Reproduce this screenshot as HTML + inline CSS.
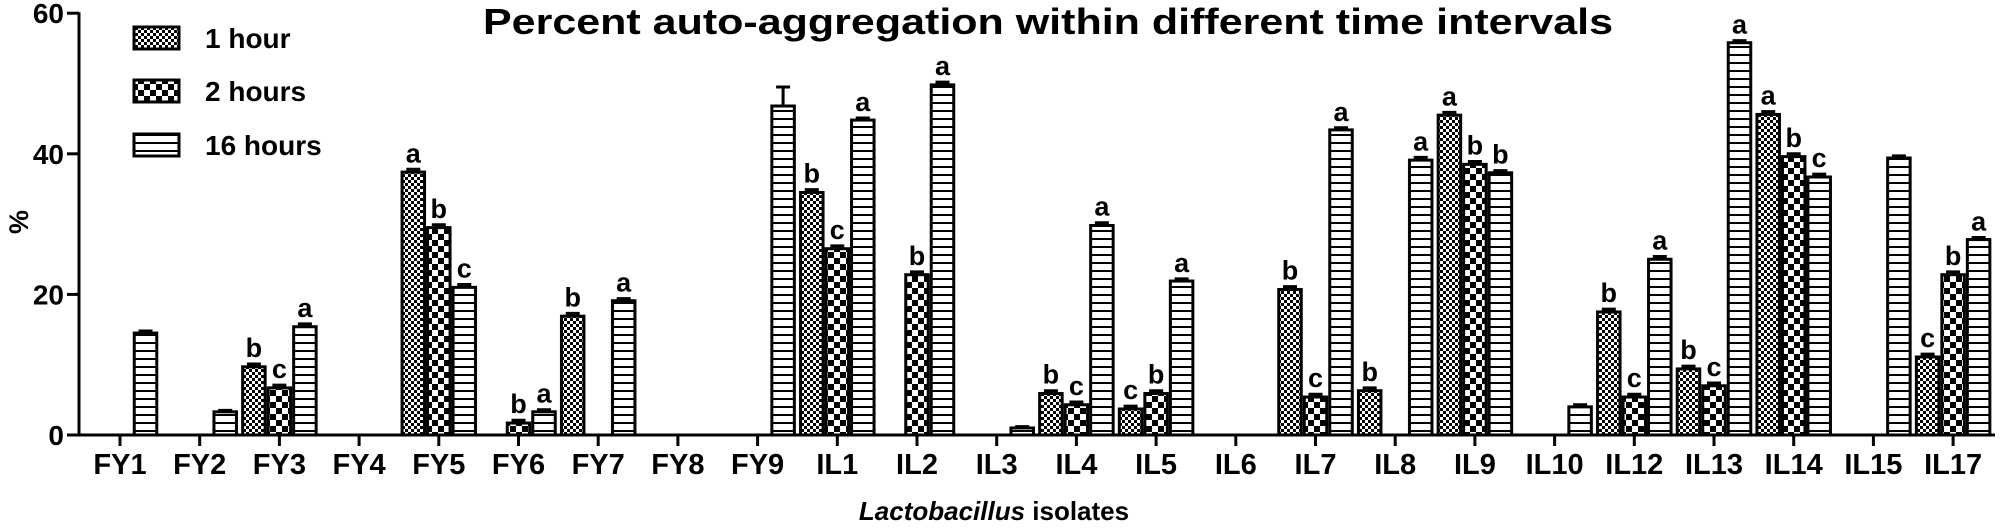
<!DOCTYPE html>
<html><head><meta charset="utf-8"><style>
html,body{margin:0;padding:0;background:#fff;}
svg{display:block;font-family:"Liberation Sans",Arial,sans-serif;font-weight:bold;}
</style></head><body>
<svg id="chart" width="2000" height="528" viewBox="0 0 2000 528">
<defs>
<pattern id="p1" width="6" height="6" patternUnits="userSpaceOnUse"><rect width="6" height="6" fill="#fff"/><rect width="3" height="3" fill="#000"/><rect x="3" y="3" width="3" height="3" fill="#000"/></pattern>
<pattern id="p2" width="12" height="12" patternUnits="userSpaceOnUse"><rect width="12" height="12" fill="#fff"/><rect x="0" y="0" width="6" height="6" fill="#000"/><rect x="6" y="6" width="6" height="6" fill="#000"/></pattern>
<pattern id="p3" width="8" height="8" patternUnits="userSpaceOnUse"><rect width="8" height="8" fill="#fff"/><rect y="6" width="8" height="2.5" fill="#000"/></pattern>
</defs>
<text x="1048" y="34" text-anchor="middle" font-size="36" textLength="1130" lengthAdjust="spacingAndGlyphs">Percent auto-aggregation within different time intervals</text>
<g id="yaxis"></g>
<g id="bars"></g>
<g id="xaxis"></g>
<text transform="translate(28,222) rotate(-90)" text-anchor="middle" font-size="27">%</text>
<text x="994" y="520" text-anchor="middle" font-size="26"><tspan font-style="italic">Lactobacillus</tspan> isolates</text>
<g>
<g><rect x="134" y="27" width="45" height="22" fill="url(#p1)" stroke="#000" stroke-width="3"/><text x="205" y="48" font-size="28">1 hour</text></g>
<g><rect x="134" y="80" width="45" height="22" fill="url(#p2)" stroke="#000" stroke-width="3"/><text x="205" y="101" font-size="28">2 hours</text></g>
<g><rect x="134" y="134" width="45" height="22" fill="url(#p3)" stroke="#000" stroke-width="3"/><text x="205" y="155" font-size="28">16 hours</text></g>
</g>
</svg>
<script>
const categories = ["FY1","FY2","FY3","FY4","FY5","FY6","FY7","FY8","FY9","IL1","IL2","IL3","IL4","IL5","IL6","IL7","IL8","IL9","IL10","IL12","IL13","IL14","IL15","IL17"];
const oneHour =   [null,null,9.7,null,37.4,null,16.9,null,null,34.5,null,null,5.9,3.7,null,20.7,6.3,45.5,null,17.5,9.4,45.6,null,11.1];
const twoHours =  [null,null,6.7,null,29.5,1.7,null,null,null,26.5,22.8,null,4.3,5.9,null,5.4,null,38.5,null,5.4,7.0,39.6,null,22.8];
const sixteenHours = [14.5,3.3,15.4,null,21.0,3.3,19.1,null,46.8,44.8,49.8,1.0,29.8,21.9,null,43.4,39.1,37.3,4.0,25.0,55.8,36.7,39.4,27.8];
const lettersOne = ["","","b","","a","","b","","","b","","","b","c","","b","b","a","","b","b","a","","c"];
const lettersTwo = ["","","c","","b","b","","","","c","b","","c","b","","c","","b","","c","c","b","","b"];
const lettersSixteen = ["","","a","","c","a","a","","","a","a","","a","a","","a","a","b","","a","a","c","","a"];
const errSixteen = [0.3,0.2,0.4,0,0.4,0.3,0.3,0,2.7,0.3,0.4,0.2,0.4,0.3,0,0.3,0.4,0.3,0.3,0.4,0.3,0.4,0.3,0.3];
const yTicks = [0,20,40,60];

const NS="http://www.w3.org/2000/svg";
const y0=435, pxPerUnit=7.03;
function yScale(v){return y0 - v*pxPerUnit;}
function xScale(i){return 120 + i*79.7;}
const barW=25.5;
function mk(tag,attrs,parent){const e=document.createElementNS(NS,tag);for(const k in attrs)e.setAttribute(k,attrs[k]);parent.appendChild(e);return e;}

const yax=document.getElementById('yaxis');
mk('line',{x1:79,y1:yScale(60)-1,x2:79,y2:y0+1,stroke:'#000','stroke-width':3},yax);
yTicks.forEach(t=>{
  const y=yScale(t);
  const tk=mk('line',{x1:67,y1:y,x2:79,y2:y,stroke:'#000','stroke-width':3},yax);
  
  
  const lb=mk('text',{x:64,y:y+10,'text-anchor':'end','font-size':28},yax);
  lb.textContent=t;
  
  
});

const xax=document.getElementById('xaxis');
mk('line',{x1:78,y1:y0,x2:1995,y2:y0,stroke:'#000','stroke-width':3},xax);
categories.forEach((c,i)=>{
  const x=xScale(i);
  const tk=mk('line',{x1:x,y1:y0,x2:x,y2:y0+11,stroke:'#000','stroke-width':3},xax);
  
  
  const lb=mk('text',{x:x,y:474,'text-anchor':'middle','font-size':29},xax);
  lb.textContent=c;
  
  
});

const bg=document.getElementById('bars');
const series=[[oneHour,'url(#p1)',-1,lettersOne,null,'1h'],[twoHours,'url(#p2)',0,lettersTwo,null,'2h'],[sixteenHours,'url(#p3)',1,lettersSixteen,errSixteen,'16h']];
series.forEach(([vals,fill,off,lets,errs,nm])=>{
  vals.forEach((v,i)=>{
    if(v===null)return;
    const cx=xScale(i)+off*barW;
    const top=yScale(v);
    const r=mk('rect',{x:cx-barW/2+1.5,y:top,width:barW-3,height:y0-top,fill:fill,stroke:'#000','stroke-width':3},bg);
    
    
    const e=errs?errs[i]:0.4;
    const et=yScale(v+e);
    const eb=mk('path',{d:`M${cx},${top} V${et} M${cx-7},${et} H${cx+7}`,stroke:'#000','stroke-width':3,fill:'none'},bg);
    
    
    if(lets[i]){
      const t=mk('text',{x:cx,y:et-7,'text-anchor':'middle','font-size':27},bg);
      t.textContent=lets[i];
      
      
    }
  });
});
</script>
</body></html>
